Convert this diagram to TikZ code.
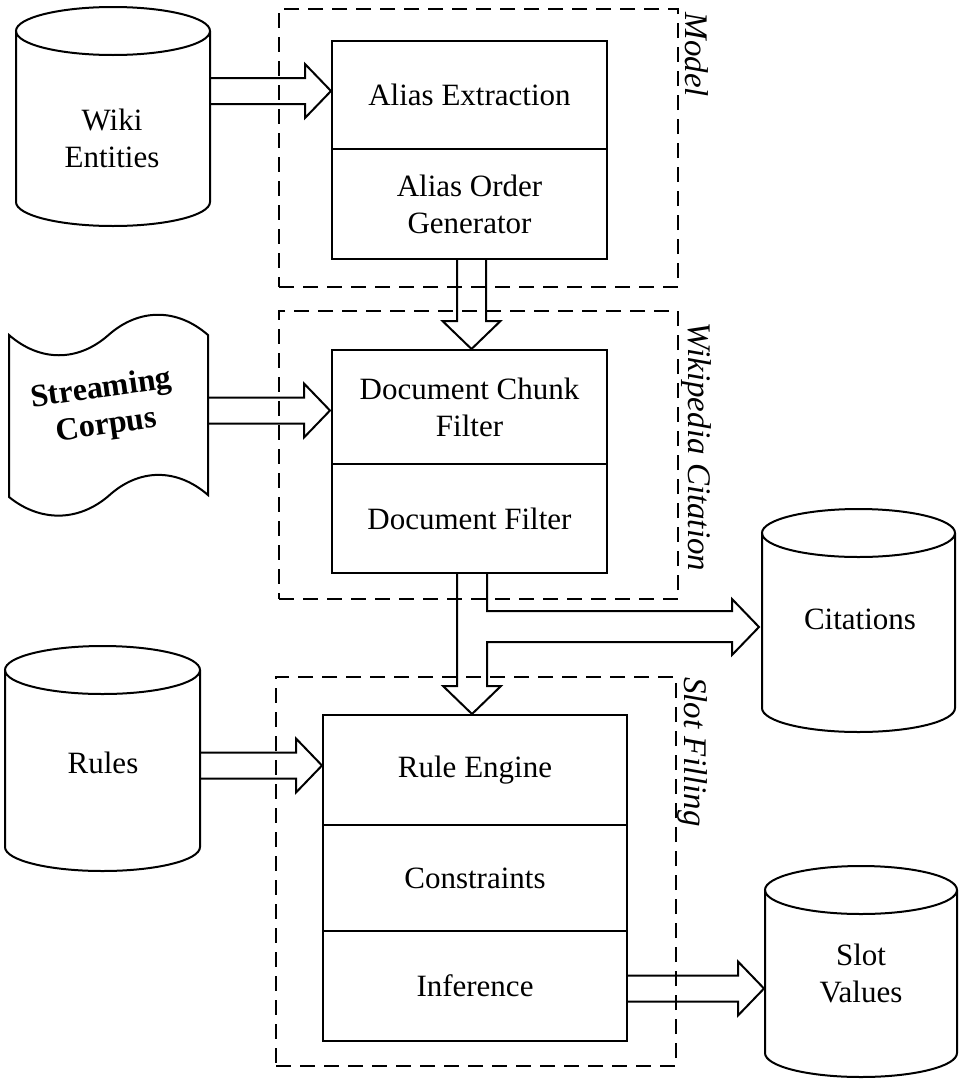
\documentclass[tikz,border=0pt]{standalone}
\usepackage{fontspec}
\setmainfont{Liberation Serif}
\usetikzlibrary{calc}
\newcommand\mycyl[4]{%
  \draw[ln] (#1,#3) ellipse[x radius=#2pt, y radius=24pt];
  \draw[ln] (#1-#2,#3) -- (#1-#2,#4) arc[start angle=180, end angle=360, x radius=#2pt, y radius=24pt] -- (#1+#2,#3);}
% horizontal fat arrow from #1 to tip #2
\newcommand\fatright[2]{%
  \draw[ln] let \p1=#1, \p2=#2 in
    (\x1,\y2+13pt) -- (\x2-26pt,\y2+13pt) -- (\x2-26pt,\y2+27pt) -- (\x2,\y2)
    -- (\x2-26pt,\y2-27pt) -- (\x2-26pt,\y2-13pt) -- (\x1,\y2-13pt);}
% vertical fat arrow from #1 down to tip #2
\newcommand\fatdown[2]{%
  \draw[ln] let \p1=#1, \p2=#2 in
    (\x2-14.5pt,\y1) -- (\x2-14.5pt,\y2+28pt) -- (\x2-29pt,\y2+28pt) -- (\x2,\y2)
    -- (\x2+29pt,\y2+28pt) -- (\x2+14.5pt,\y2+28pt) -- (\x2+14.5pt,\y1);}
\begin{document}
\begin{tikzpicture}[x=1pt,y=-1pt,
  ln/.style={line width=2pt, line join=miter},
  box/.style={ln, draw, rectangle, inner sep=0pt, align=center, font=\fontsize{31}{37}\selectfont},
  grp/.style={draw, line width=2pt, dash pattern=on 15pt off 9pt, rectangle, inner sep=0pt},
  lbl/.style={font=\itshape\fontsize{33}{38}\selectfont, rotate=-90, inner sep=0pt},
  txt/.style={align=center, inner sep=0pt, font=\fontsize{31}{37}\selectfont}]
\useasboundingbox (0,0) rectangle (960,1082);

% group boxes
\node[grp, minimum width=399pt, minimum height=278pt] (model) at (478.5,148) {};
\node[grp, minimum width=399pt, minimum height=288pt] (wcit) at (478.5,455) {};
\node[grp, minimum width=400pt, minimum height=389pt] (slot) at (476,871.5) {};
\node[lbl] (lmodel) at (697,55) {Model};
\node[lbl] (lwcit) at (696,447) {Wikipedia Citation};
\node[lbl] (lslot) at (692,752) {Slot Filling};

% process boxes
\node[box, minimum width=275pt, minimum height=108pt] (ae) at (469.5,95) {Alias Extraction};
\node[box, minimum width=275pt, minimum height=110pt] (aog) at (469.5,204) {Alias Order\\Generator};
\node[box, minimum width=275pt, minimum height=114pt] (dcf) at (469.5,407) {Document Chunk\\Filter};
\node[box, minimum width=275pt, minimum height=109pt] (dfl) at (469.5,518.5) {Document Filter};
\node[box, minimum width=304pt, minimum height=110pt] (re) at (475,770) {Rule Engine};
\node[box, minimum width=304pt, minimum height=106pt] (co) at (475,878) {Constraints};
\node[box, minimum width=304pt, minimum height=110pt] (inf) at (475,986) {Inference};

% data stores
\mycyl{113}{97}{31}{202}
\node[txt] (wiki) at (112,138) {Wiki\\Entities};
\mycyl{102.5}{97.5}{670}{847}
\node[txt] (rules) at (103,763) {Rules};
\mycyl{858.5}{96.5}{533}{708}
\node[txt] (cit) at (860,619) {Citations};
\mycyl{861}{96}{890}{1053}
\node[txt] (sv) at (861,973) {Slot\\Values};

% streaming corpus (tape)
\draw[ln] (9,335) .. controls (40,362) and (78,362) .. (108.5,335)
  .. controls (139,308) and (177,308) .. (208,335) -- (208,495)
  .. controls (177,468) and (139,468) .. (108.5,496)
  .. controls (78,522) and (40,522) .. (9,497) -- cycle;
\node[txt, rotate=8, font=\bfseries\fontsize{32}{37}\selectfont] (sc) at (104,408) {Streaming\\Corpus};

% connector end points
\coordinate (w1) at (210,91);
\coordinate (w2) at (331,91);
\coordinate (s1) at (208,410.5);
\coordinate (s2) at (330,410.5);
\coordinate (r1) at (200,765.5);
\coordinate (r2) at (322,765.5);
\coordinate (i1) at (627,988.5);
\coordinate (i2) at (764,988.5);
\coordinate (d1) at (471.5,259);
\coordinate (d2) at (471.5,349);

\fatright{(w1)}{(w2)}
\fatright{(s1)}{(s2)}
\fatright{(r1)}{(r2)}
\fatright{(i1)}{(i2)}
\fatdown{(d1)}{(d2)}

% split arrow: document filter -> slot filling and citations
\draw[ln] (457,573) -- (457,686) -- (443,686) -- (472,714) -- (501,686) -- (487,686)
  -- (487,642) -- (732,642) -- (732,655) -- (759,627) -- (732,599) -- (732,611)
  -- (487,611) -- (487,573);
\end{tikzpicture}
\end{document}
